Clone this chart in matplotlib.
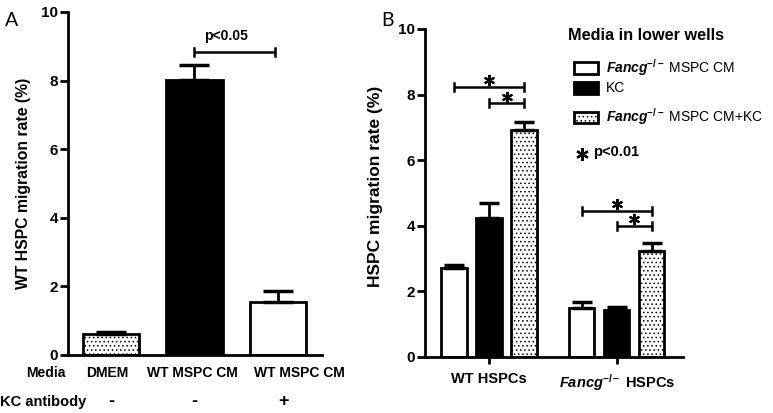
import numpy as np
import matplotlib
matplotlib.use("Agg")
from matplotlib import pyplot as plt
from matplotlib.patches import Rectangle

plt.rcParams["font.family"] = ["Liberation Sans", "DejaVu Sans"]
plt.rcParams["font.weight"] = "bold"
plt.rcParams["mathtext.fontset"] = "custom"
plt.rcParams["mathtext.rm"] = "Liberation Sans"
plt.rcParams["mathtext.it"] = "Liberation Sans:italic"
plt.rcParams["mathtext.bf"] = "Liberation Sans:bold"
plt.rcParams["mathtext.bfit"] = "Liberation Sans:bold:italic"
plt.rcParams["hatch.linewidth"] = 0.6

# panel A data
a_media = ["DMEM", "WT MSPC CM", "WT MSPC CM"]
a_kc_antibody = ["-", "-", "+"]
a_rate = [0.60, 8.02, 1.55]
a_sem = [0.08, 0.43, 0.31]
a_pvalue = "p<0.05"

# panel B data
b_groups = ["WT HSPCs", r"$\mathbfit{Fancg}^{-/-}$ HSPCs"]
b_media = [r"$\mathbfit{Fancg}^{-/-}$ MSPC CM", "KC", r"$\mathbfit{Fancg}^{-/-}$ MSPC CM+KC"]
b_rate_wt = [2.71, 4.25, 6.92]
b_sem_wt = [0.11, 0.45, 0.25]
b_rate_fancg = [1.49, 1.43, 3.23]
b_sem_fancg = [0.18, 0.10, 0.25]
b_sig = [(0, 2, 8.23), (1, 2, 7.74), (3, 5, 4.45), (4, 5, 4.00)]

y_ticks = [0, 2, 4, 6, 8, 10]

W, H = 773, 413
fig = plt.figure(figsize=(W / 100, H / 100), dpi=100)
ASTER = (6, 2, 0)


def px_axes(l, r, b, t):
    return fig.add_axes([l / W, 1 - b / H, (r - l) / W, (b - t) / H])


def style(ax):
    for s in ["top", "right"]:
        ax.spines[s].set_visible(False)
    for s in ["left", "bottom"]:
        ax.spines[s].set_linewidth(2)
    ax.set_ylim(0, 10)
    ax.set_yticks(y_ticks, [str(t) for t in y_ticks], fontweight="bold", fontsize=11)
    ax.tick_params(axis="y", length=6, width=2, pad=1)


def bracket(ax, x0, x1, y, tick=0.12):
    ax.plot([x0, x1], [y, y], color="black", lw=1.8, solid_capstyle="butt")
    for x in (x0, x1):
        ax.plot([x, x], [y - tick, y + tick], color="black", lw=1.8)


def fit_length(txt, target_px):
    # scale font so the text spans about as far as in the original
    r = fig.canvas.get_renderer()
    bb = txt.get_window_extent(r)
    span = max(bb.width, bb.height)
    txt.set_fontsize(txt.get_fontsize() * target_px / span)


# ---- panel A
axA = px_axes(68, 322, 355, 12)
style(axA)
xa = np.arange(len(a_rate))
hatches = ["....", None, None]
faces = ["white", "black", "white"]
for x, v, fc, h in zip(xa, a_rate, faces, hatches):
    axA.bar(x, v, width=0.68, color=fc, edgecolor="black", linewidth=2, hatch=h)
axA.errorbar(xa, a_rate, yerr=[np.zeros(3), a_sem], fmt="none", ecolor="black",
             elinewidth=2, capsize=11, capthick=2.5)
axA.set_xlim(-0.515, 2.527)
axA.set_xticks([])
# category labels sit a little off the bar centres in the original
label_shift = [-0.04, -0.03, 0.26]
for x, lab, dx in zip(xa, a_media, label_shift):
    axA.text(x + dx, -0.052, lab, transform=axA.get_xaxis_transform(),
             ha="center", va="center", fontsize=10, fontweight="bold")
ylA = axA.set_ylabel("WT HSPC migration rate (%)", fontsize=10, fontweight="bold")
axA.yaxis.set_label_coords(-0.146, 0.5)
bracket(axA, 1, 1.97, 8.84)
axA.text(1.38, 9.3, a_pvalue, ha="center", va="center", fontsize=10, fontweight="bold")
fig.text(26 / W, 1 - 373 / H, "Media", ha="left", va="center", fontsize=10, fontweight="bold")
fig.text(0 / W, 1 - 402 / H, "KC antibody", ha="left", va="center", fontsize=10.5, fontweight="bold")
for x, s in zip(xa, a_kc_antibody):
    axA.text(x + (0.07 if s == "+" else 0), -0.137, s, transform=axA.get_xaxis_transform(),
             ha="center", va="center", fontsize=13, fontweight="bold")

# ---- panel B
axB = px_axes(425, 683, 357, 29)
style(axB)
pos = [0, 1, 2, 3.65, 4.65, 5.65]
rates = b_rate_wt + b_rate_fancg
sems = b_sem_wt + b_sem_fancg
bfaces = ["white", "black", "white"] * 2
bhatch = [None, None, "...."] * 2
for x, v, fc, h in zip(pos, rates, bfaces, bhatch):
    axB.bar(x, v, width=0.72, color=fc, edgecolor="black", linewidth=2, hatch=h)
axB.errorbar(pos, rates, yerr=[np.zeros(6), sems], fmt="none", ecolor="black",
             elinewidth=2, capsize=7, capthick=2.5)
axB.set_xlim(-0.83, 6.54)
axB.set_xticks([1, 4.65], b_groups, fontweight="bold")
axB.tick_params(axis="x", length=5, width=2, pad=6, labelsize=10.5)
ylB = axB.set_ylabel("HSPC migration rate (%)", fontsize=10, fontweight="bold")
for i, j, y in b_sig:
    bracket(axB, pos[i], pos[j], y)
    axB.plot((pos[i] + pos[j]) / 2, y + 0.2, marker=ASTER, markersize=8,
             markeredgewidth=1.5, color="black")

fit_length(ylA, 210)
fit_length(ylB, 201)
axB.yaxis.set_label_coords(-0.163, 0.52)

# legend (drawn in figure pixels)
title = fig.text(568 / W, 1 - 35 / H, "Media in lower wells", ha="left", va="center",
                 fontsize=10, fontweight="bold")
fit_length(title, 156)
leg_y = [68, 88, 117]
for y, fc, h, lab in zip(leg_y, ["white", "black", "white"], [None, None, "...."], b_media):
    fig.add_artist(Rectangle((574 / W, 1 - (y + 5.5) / H), 24 / W, 11 / H, transform=fig.transFigure,
                             facecolor=fc, edgecolor="black", linewidth=2, hatch=h))
    fig.text(606 / W, 1 - y / H, lab, ha="left", va="center", fontsize=10, fontweight="normal")
fig.lines.append(plt.Line2D([582 / W], [1 - 154 / H], transform=fig.transFigure, marker=ASTER,
                            markersize=9, markeredgewidth=1.6, color="black"))
fig.text(593 / W, 1 - 152 / H, "p<0.01", ha="left", va="center", fontsize=10.5, fontweight="bold")

fig.text(5 / W, 1 - 20 / H, "A", ha="left", va="center", fontsize=14, fontweight="normal", family="Lato")
fig.text(381 / W, 1 - 20 / H, "B", ha="left", va="center", fontsize=14, fontweight="normal", family="Lato")

fig.savefig("out.png", dpi=100)
